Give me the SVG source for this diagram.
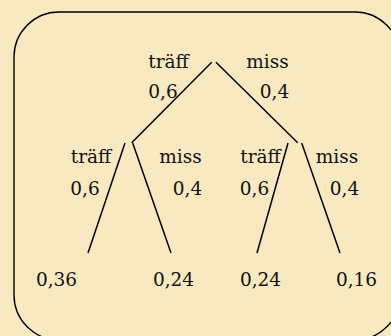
<svg xmlns="http://www.w3.org/2000/svg" width="391" height="336" viewBox="0 0 391 336">
<style>
.t{font-family:"DejaVu Serif","Liberation Serif",serif;font-size:18.5px;fill:#111;text-anchor:middle}
.e{stroke:#000;stroke-width:1.5;fill:none}
</style>
<rect width="391" height="336" fill="#f9e9c1"/>
<rect x="14" y="12" width="386" height="328" rx="45" ry="45" fill="none" stroke="#000" stroke-width="1.4"/>
<g id="connectors">
<line class="e" x1="211.7" y1="62.3" x2="131.7" y2="142.7"/>
<line class="e" x1="216" y1="62.3" x2="297.7" y2="142.7"/>
<line class="e" x1="125" y1="143" x2="88" y2="253"/>
<line class="e" x1="132.7" y1="143" x2="171" y2="253"/>
<line class="e" x1="288" y1="143" x2="257" y2="253"/>
<line class="e" x1="301.7" y1="143" x2="340" y2="253"/>
</g>
<g id="root">
<text class="t" x="168.5" y="68">träff</text>
<text class="t" x="267.5" y="68">miss</text>
<text class="t" x="163" y="98">0,6</text>
<text class="t" x="274.5" y="98">0,4</text>
</g>
<g id="n-hit">
<text class="t" x="91" y="163">träff</text>
<text class="t" x="180.5" y="163">miss</text>
<text class="t" x="85" y="195">0,6</text>
<text class="t" x="187.5" y="195">0,4</text>
</g>
<g id="n-miss">
<text class="t" x="260.5" y="163">träff</text>
<text class="t" x="337" y="163">miss</text>
<text class="t" x="254.5" y="195">0,6</text>
<text class="t" x="344.5" y="195">0,4</text>
</g>
<g id="leaf-hh"><text class="t" x="56.5" y="286">0,36</text></g>
<g id="leaf-hm"><text class="t" x="173.5" y="286">0,24</text></g>
<g id="leaf-mh"><text class="t" x="260.5" y="286">0,24</text></g>
<g id="leaf-mm"><text class="t" x="356.5" y="286">0,16</text></g>
</svg>
